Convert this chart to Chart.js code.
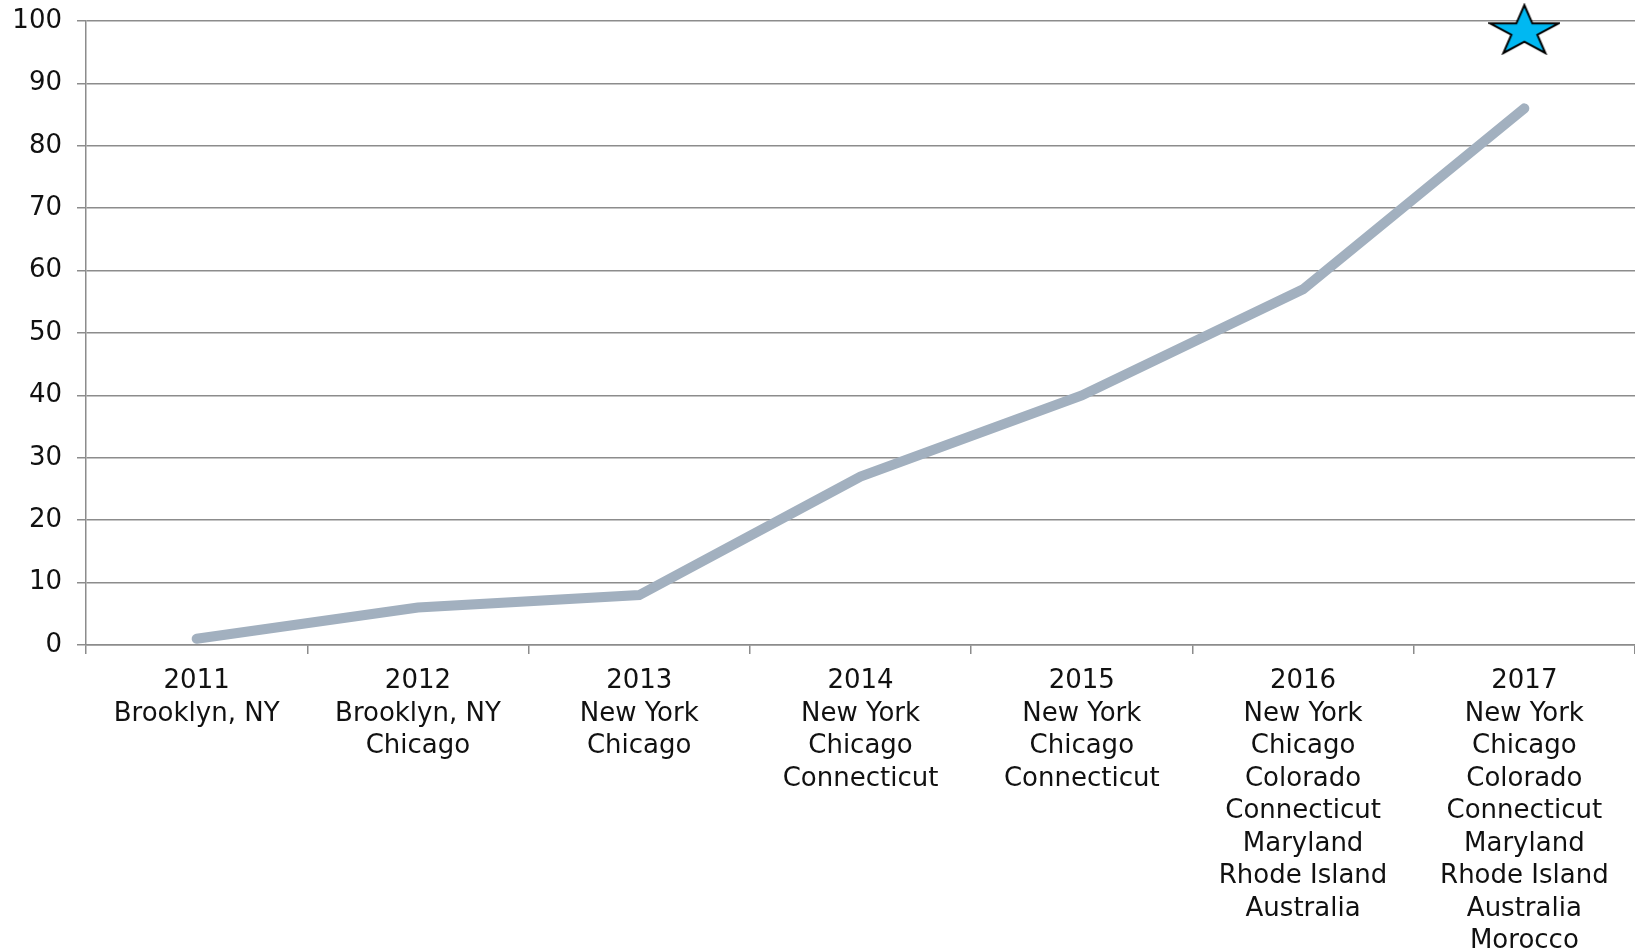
<!DOCTYPE html>
<html>
<head>
<meta charset="utf-8">
<script src="https://cdn.jsdelivr.net/npm/chart.js@4/dist/chart.umd.min.js"></script>
<style>
  html, body { margin: 0; padding: 0; background: #ffffff; overflow: hidden; }
  #wrap { width: 1635px; height: 950px; }
  canvas { display: block; }
</style>
</head>
<body>
<div id="wrap"><canvas id="c" width="1635" height="950"></canvas></div>
<script>
const years = ['2011', '2012', '2013', '2014', '2015', '2016', '2017'];
const locations = [
  ['Brooklyn, NY'],
  ['Brooklyn, NY', 'Chicago'],
  ['New York', 'Chicago'],
  ['New York', 'Chicago', 'Connecticut'],
  ['New York', 'Chicago', 'Connecticut'],
  ['New York', 'Chicago', 'Colorado', 'Connecticut', 'Maryland', 'Rhode Island', 'Australia'],
  ['New York', 'Chicago', 'Colorado', 'Connecticut', 'Maryland', 'Rhode Island', 'Australia', 'Morocco']
];
const growth = [1, 6, 8, 27, 40, 57, 86];
const goal = [null, null, null, null, null, null, 98.7];
const yTicks = [0, 10, 20, 30, 40, 50, 60, 70, 80, 90, 100];

const labels = years.map((y, i) => [y].concat(locations[i]));

// five-pointed star marker image
function makeStar(w, h) {
  const cv = document.createElement('canvas');
  cv.width = w + 4; cv.height = h + 4;
  const ctx = cv.getContext('2d');
  const pts = [];
  for (let k = 0; k < 10; k++) {
    const r = (k % 2 === 0) ? 1 : 0.382;
    const a = -Math.PI / 2 + k * Math.PI / 5;
    pts.push([r * Math.cos(a), r * Math.sin(a)]);
  }
  const minX = -0.951, maxX = 0.951, minY = -1, maxY = 0.809;
  ctx.beginPath();
  pts.forEach((p, i) => {
    const x = 2 + (p[0] - minX) / (maxX - minX) * w;
    const y = 2 + (p[1] - minY) / (maxY - minY) * h;
    if (i === 0) ctx.moveTo(x, y); else ctx.lineTo(x, y);
  });
  ctx.closePath();
  ctx.fillStyle = '#00B8F2';
  ctx.fill();
  ctx.lineWidth = 2;
  ctx.strokeStyle = '#000000';
  ctx.lineJoin = 'miter';
  ctx.stroke();
  return cv;
}
const starImg = makeStar(68, 48);

const gridColor = '#8c8c8c';
const font = { family: '"DejaVu Sans", Verdana, sans-serif', size: 26, lineHeight: 1.25 };

new Chart(document.getElementById('c'), {
  type: 'line',
  data: {
    labels: labels,
    datasets: [
      { data: growth, borderColor: '#A2B0BF', borderWidth: 10, borderCapStyle: 'round', pointRadius: 0, pointHoverRadius: 0, tension: 0, fill: false, order: 2 },
      { data: goal, showLine: false, pointStyle: starImg, pointRadius: 20, clip: false, order: 1 }
    ]
  },
  options: {
    responsive: false,
    animation: false,
    devicePixelRatio: 1,
    layout: { autoPadding: false, padding: { top: 21, right: 0, left: 0, bottom: 0 } },
    plugins: { legend: { display: false }, tooltip: { enabled: false } },
    scales: {
      x: {
        offset: true,
        grid: { display: true, drawOnChartArea: false, drawTicks: true, tickLength: 9, color: gridColor, lineWidth: 1.5, offset: true },
        border: { display: true, color: gridColor, width: 1.5 },
        ticks: { color: '#111111', font: font, padding: 11, maxRotation: 0, minRotation: 0, autoSkip: false },
        afterFit: (s) => { s.height = 305; s.paddingLeft = 0; s.paddingRight = 0; }
      },
      y: {
        min: 0,
        max: 100,
        afterBuildTicks: (s) => { s.ticks = yTicks.map(v => ({ value: v })); },
        grid: { color: gridColor, lineWidth: 1.5, drawTicks: true, tickLength: 9 },
        border: { display: true, color: gridColor, width: 1.5 },
        ticks: { color: '#111111', font: { family: font.family, size: 26 }, padding: 15 },
        afterFit: (s) => { s.width = 86; s.paddingTop = 0; s.paddingBottom = 0; }
      }
    }
  }
});
</script>
</body>
</html>
